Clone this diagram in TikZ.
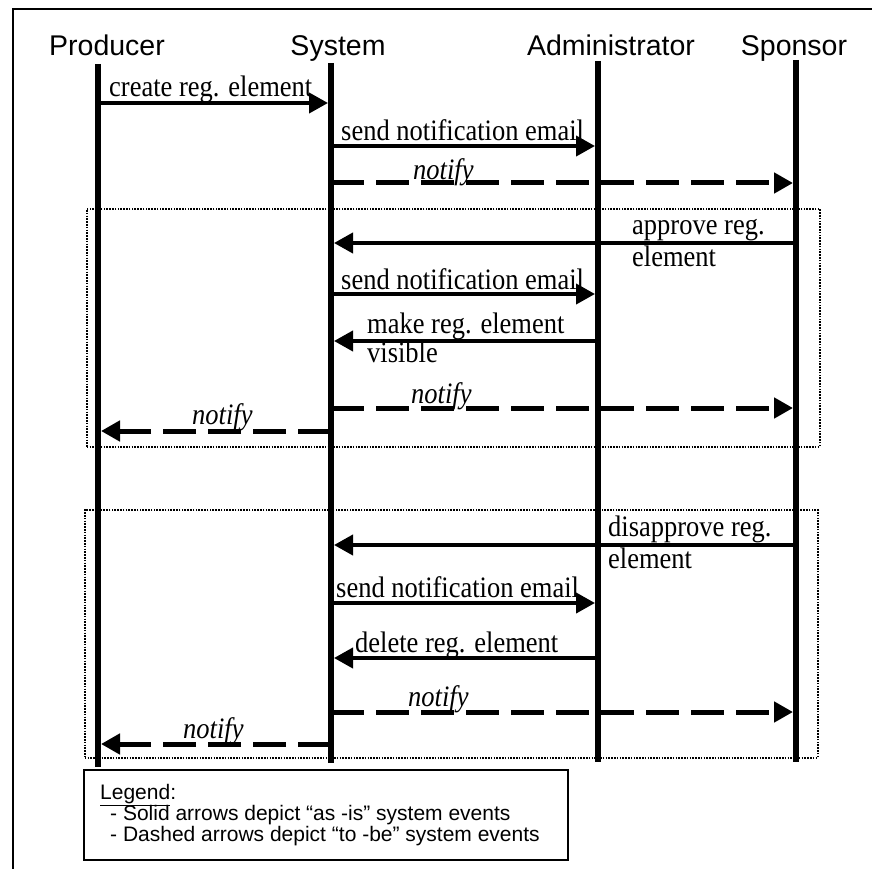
\documentclass[tikz,border=0pt]{standalone}
\usepackage{fontspec}
\usepackage{graphicx}
\setmainfont{Liberation Serif}
\newfontfamily\headfont{Liberation Sans}
\newcommand{\vstretch}[1]{\scalebox{1}[1.12]{#1}}
\usetikzlibrary{arrows.meta}
\begin{document}
\begin{tikzpicture}[x=1pt,y=-1pt,
  lifeline/.style={line width=6pt},
  msg/.style={line width=4pt,-{Triangle[length=19pt,width=20pt]}},
  tobe/.style={line width=5pt,dash pattern=on 33pt off 12pt,-{Triangle[length=19pt,width=20pt]}},
  grp/.style={line width=1.6pt,dash pattern=on 1.6pt off 1.2pt},
  head/.style={anchor=base,inner sep=0pt,font=\headfont\fontsize{28.5}{32}\selectfont},
  lbl/.style={anchor=base west,inner sep=0pt,font=\fontsize{26.5}{30}\selectfont},
  ilbl/.style={lbl,font=\fontsize{26.5}{30}\selectfont\itshape},
  leg/.style={anchor=base west,inner sep=0pt,font=\headfont\fontsize{21}{21}\selectfont}]
\useasboundingbox (0,0) rectangle (872,869);
% frame
\coordinate (f1) at (13,869); \coordinate (f2) at (13,9); \coordinate (f3) at (872,9);
\draw[line width=1.5pt] (f1) -- (f2) -- (f3);
% heads
\node[head] (hP) at (107,56) {Producer};
\node[head] (hS) at (338,56) {System};
\node[head] (hA) at (611,56) {Administrator};
\node[head] (hSp) at (794,56) {Sponsor};
% lifelines
\coordinate (Pt) at (98,64);  \coordinate (Pb) at (98,767);
\coordinate (St) at (331,63); \coordinate (Sb) at (331,763);
\coordinate (At) at (598,61); \coordinate (Ab) at (598,762);
\coordinate (Ot) at (796,60); \coordinate (Ob) at (796,762);
\draw[lifeline] (Pt) -- (Pb);
\draw[lifeline] (St) -- (Sb);
\draw[lifeline] (At) -- (Ab);
\draw[lifeline] (Ot) -- (Ob);
% group boxes
\node[grp,draw,inner sep=0pt,minimum width=733pt,minimum height=238pt,anchor=north west] (g1) at (86,208) {};
\node[grp,draw,inner sep=0pt,minimum width=733pt,minimum height=248pt,anchor=north west] (g2) at (84,509) {};
% messages
\coordinate (m1a) at (98,103);  \coordinate (m1b) at (328,103);
\draw[msg] (m1a) -- (m1b);
\node[lbl] (t1) at (109,97) {\vstretch{create reg. element}};
\coordinate (m2a) at (331,146); \coordinate (m2b) at (595,146);
\draw[msg] (m2a) -- (m2b);
\node[lbl] (t2) at (341,141) {\vstretch{send notification email}};
\coordinate (m3a) at (331,183); \coordinate (m3b) at (793,183);
\draw[tobe] (m3a) -- (m3b);
\node[ilbl] (t3) at (413,179) {\vstretch{notify}};
\coordinate (m4a) at (796,243); \coordinate (m4b) at (334,243);
\draw[msg] (m4a) -- (m4b);
\node[lbl] (t4) at (632,234) {\vstretch{approve reg.}};
\node[lbl] (t4b) at (632,266) {\vstretch{element}};
\coordinate (m5a) at (331,294); \coordinate (m5b) at (595,294);
\draw[msg] (m5a) -- (m5b);
\node[lbl] (t5) at (341,289) {\vstretch{send notification email}};
\coordinate (m6a) at (598,341); \coordinate (m6b) at (334,341);
\draw[msg] (m6a) -- (m6b);
\node[lbl] (t6) at (367,333) {\vstretch{make reg. element}};
\node[lbl] (t6b) at (367,362) {\vstretch{visible}};
\coordinate (m7a) at (331,408); \coordinate (m7b) at (793,408);
\draw[tobe] (m7a) -- (m7b);
\node[ilbl] (t7) at (411,403) {\vstretch{notify}};
\coordinate (m8a) at (331,431); \coordinate (m8b) at (101,431);
\draw[tobe] (m8a) -- (m8b);
\node[ilbl] (t8) at (192,424) {\vstretch{notify}};
\coordinate (m9a) at (796,545); \coordinate (m9b) at (334,545);
\draw[msg] (m9a) -- (m9b);
\node[lbl] (t9) at (608,536) {\vstretch{disapprove reg.}};
\node[lbl] (t9b) at (608,568) {\vstretch{element}};
\coordinate (m10a) at (331,603); \coordinate (m10b) at (595,603);
\draw[msg] (m10a) -- (m10b);
\node[lbl] (t10) at (336,597) {\vstretch{send notification email}};
\coordinate (m11a) at (598,658); \coordinate (m11b) at (334,658);
\draw[msg] (m11a) -- (m11b);
\node[lbl] (t11) at (355,652) {\vstretch{delete reg. element}};
\coordinate (m12a) at (331,712); \coordinate (m12b) at (793,712);
\draw[tobe] (m12a) -- (m12b);
\node[ilbl] (t12) at (408,706) {\vstretch{notify}};
\coordinate (m13a) at (331,744); \coordinate (m13b) at (101,744);
\draw[tobe] (m13a) -- (m13b);
\node[ilbl] (t13) at (183,738) {\vstretch{notify}};
% legend
\node[draw,fill=white,line width=1.8pt,inner sep=0pt,minimum width=484pt,minimum height=90pt,anchor=north west] (lg) at (83,769) {};
\node[leg] (lg1) at (100,799) {\underline{Legend}:};
\node[leg] (lg2) at (110,820) {- Solid arrows depict “as -is” system events};
\node[leg] (lg3) at (110,841) {- Dashed arrows depict “to -be” system events};
\end{tikzpicture}
\end{document}
